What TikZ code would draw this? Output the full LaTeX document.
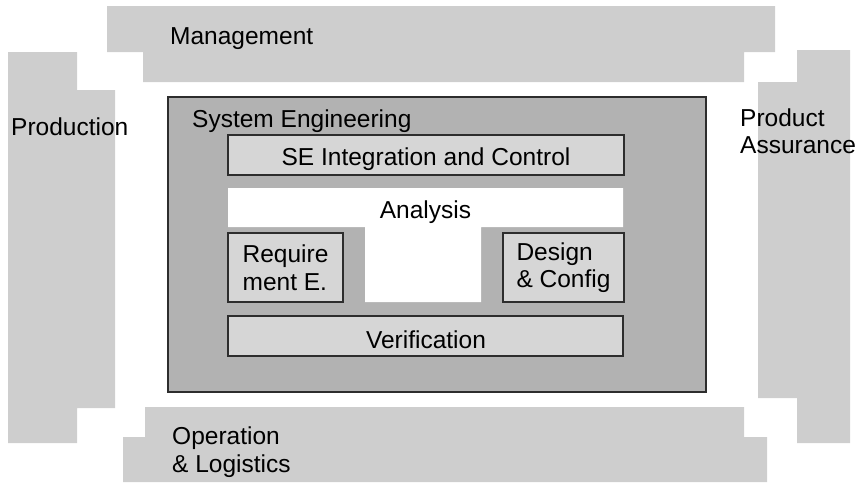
\documentclass[tikz,border=0pt]{standalone}
\usepackage{fontspec}
\setmainfont{Liberation Sans}
\definecolor{bandgray}{RGB}{206,206,206}
\definecolor{segray}{RGB}{178,178,178}
\definecolor{boxgray}{RGB}{214,214,214}
\definecolor{edge}{RGB}{45,45,45}
\begin{document}
\begin{tikzpicture}[x=1pt,y=-1pt,
  label/.style={font=\fontsize{24.5}{27.5}\selectfont, text=black, inner sep=0pt, align=left},
  band/.style={fill=bandgray, draw=none},
  sebox/.style={fill=segray, draw=edge, line width=1.6pt},
  subbox/.style={fill=boxgray, draw=edge, line width=1.4pt, inner sep=0pt,
    font=\fontsize{24.5}{27.5}\selectfont, align=left}]
  \useasboundingbox (0,0) rectangle (859,482);

  % outer stepped bands
  \fill[band] (107,6) -- (775,6) -- (775,52) -- (744,52) -- (744,82)
    -- (143,82) -- (143,52) -- (107,52) -- cycle;
  \fill[band] (8,52) -- (77,52) -- (77,90) -- (115,90) -- (115,408)
    -- (77,408) -- (77,443) -- (8,443) -- cycle;
  \fill[band] (797,50) -- (850,50) -- (850,443) -- (797,443) -- (797,398)
    -- (758,398) -- (758,82) -- (797,82) -- cycle;
  \fill[band] (145,407) -- (744,407) -- (744,437) -- (767,437) -- (767,482)
    -- (123,482) -- (123,437) -- (145,437) -- cycle;

  \node[label, anchor=base west] (mgmt) at (170,44) {Management};
  \node[label, anchor=base west] (prod) at (11,135) {Production};
  \node[label, anchor=west] (pa) at (740,131) {Product\\Assurance};
  \node[label, anchor=west] (ops) at (172,452) {Operation\\\& Logistics};

  % system engineering block
  \node[sebox, minimum width=538pt, minimum height=295pt, inner sep=0pt]
    (se) at (437,244.5) {};
  \node[label, anchor=base west] (setitle) at (192,127) {System Engineering};

  \node[subbox, minimum width=396pt, minimum height=40pt] (ctrl) at (426,155) {};
  \node[label, anchor=base] (ctrltxt) at (426,165) {SE Integration and Control};

  % analysis area (T shaped)
  \fill[white] (228,188) -- (623,188) -- (623,227) -- (481,227) -- (481,302)
    -- (365,302) -- (365,227) -- (228,227) -- cycle;
  \node[label, anchor=base] (ana) at (425.5,218) {Analysis};

  \node[subbox, minimum width=115pt, minimum height=69pt] (req) at (285.5,267.5)
    {Require\\ment E.};
  \node[subbox, minimum width=121pt, minimum height=69pt] (des) at (563.5,267.5)
    {Design\\\& Config};

  \node[subbox, minimum width=395pt, minimum height=40pt] (ver) at (425.5,336) {};
  \node[label, anchor=base] (vertxt) at (426,348) {Verification};
\end{tikzpicture}
\end{document}
